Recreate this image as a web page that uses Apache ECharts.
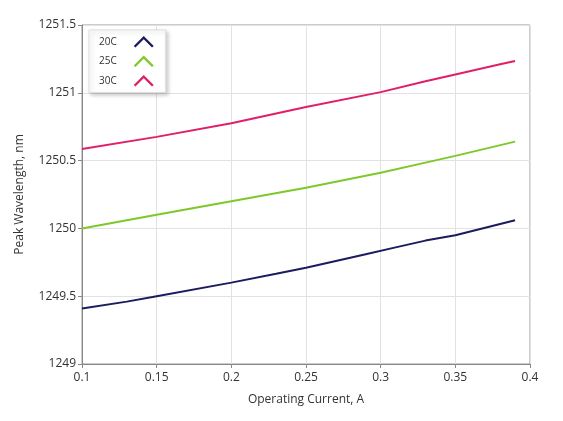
<!DOCTYPE html>
<html>
<head>
<meta charset="utf-8">
<script src="https://cdn.jsdelivr.net/npm/echarts@6/dist/echarts.min.js"></script>
<style>
  html, body { margin: 0; padding: 0; background: #ffffff; }
  #chart { width: 563px; height: 421px; }
</style>
</head>
<body>
<div id="chart"></div>
<script>
// operating current (A) / peak wavelength (nm)
var current20 = [0.10, 0.13, 0.15, 0.20, 0.23, 0.25, 0.29, 0.31, 0.33, 0.35, 0.39];
var wave20 = [1249.41, 1249.46, 1249.50, 1249.60, 1249.665, 1249.71, 1249.81, 1249.86, 1249.91, 1249.95, 1250.06];

var current25 = [0.10, 0.15, 0.20, 0.25, 0.30, 0.33, 0.35, 0.39];
var wave25 = [1250.00, 1250.10, 1250.20, 1250.30, 1250.41, 1250.485, 1250.535, 1250.64];

var current30 = [0.10, 0.15, 0.20, 0.25, 0.30, 0.33, 0.35, 0.38, 0.39];
var wave30 = [1250.585, 1250.675, 1250.775, 1250.895, 1251.005, 1251.085, 1251.135, 1251.21, 1251.235];

var seriesNames = ["20C", "25C", "30C"];
var seriesColors = ["#1b1b5e", "#7fc82a", "#e01f68"];

function pairs(xs, ys) {
  var out = [];
  for (var i = 0; i < xs.length; i++) out.push([xs[i], ys[i]]);
  return out;
}

var chevron = "path://M0,8 L8,0 L16,8 L14.6,9.2 L8,2.6 L1.4,9.2 Z";

var chart = echarts.init(document.getElementById("chart"));
var dataSets = [pairs(current20, wave20), pairs(current25, wave25), pairs(current30, wave30)];

chart.setOption({
  animation: false,
  textStyle: { fontFamily: "Open Sans" },
  grid: {
    left: 82, right: 33, top: 25, bottom: 57,
    show: true, borderColor: "#999", borderWidth: 1
  },
  legend: {
    left: 89, top: 30,
    orient: "vertical",
    align: "right",
    itemGap: 8,
    itemWidth: 20, itemHeight: 12,
    padding: [6, 12, 6, 10],
    backgroundColor: "#fff",
    borderColor: "#ddd",
    borderWidth: 1,
    shadowColor: "rgba(0,0,0,0.2)",
    shadowBlur: 4,
    shadowOffsetX: 2,
    shadowOffsetY: 2,
    textStyle: { fontSize: 10, color: "#333", padding: [0, 12, 0, 0] },
    data: seriesNames.map(function (n) { return { name: n, icon: chevron }; })
  },
  xAxis: {
    type: "value",
    min: 0.1, max: 0.4, interval: 0.05,
    name: "Operating Current, A",
    nameLocation: "middle",
    nameGap: 30,
    nameTextStyle: { fontSize: 12, color: "#333" },
    axisLine: { lineStyle: { color: "#888" } },
    axisTick: { show: true, length: 4, lineStyle: { color: "#888" } },
    axisLabel: { fontSize: 12, color: "#333", margin: 8 },
    splitLine: { show: true, lineStyle: { color: "#e2e2e2" } }
  },
  yAxis: {
    type: "value",
    min: 1249, max: 1251.5, interval: 0.5,
    name: "Peak Wavelength, nm",
    nameLocation: "middle",
    nameGap: 56,
    nameTextStyle: { fontSize: 12, color: "#333" },
    axisLine: { show: true, lineStyle: { color: "#888" } },
    axisTick: { show: true, length: 4, lineStyle: { color: "#888" } },
    axisLabel: { fontSize: 12, color: "#333", margin: 6, formatter: function (v) { return String(v); } },
    splitLine: { show: true, lineStyle: { color: "#e2e2e2" } }
  },
  series: seriesNames.map(function (n, i) {
    return {
      name: n,
      type: "line",
      data: dataSets[i],
      showSymbol: false,
      smooth: false,
      color: seriesColors[i],
      lineStyle: { width: 2, color: seriesColors[i] }
    };
  })
});
</script>
</body>
</html>
